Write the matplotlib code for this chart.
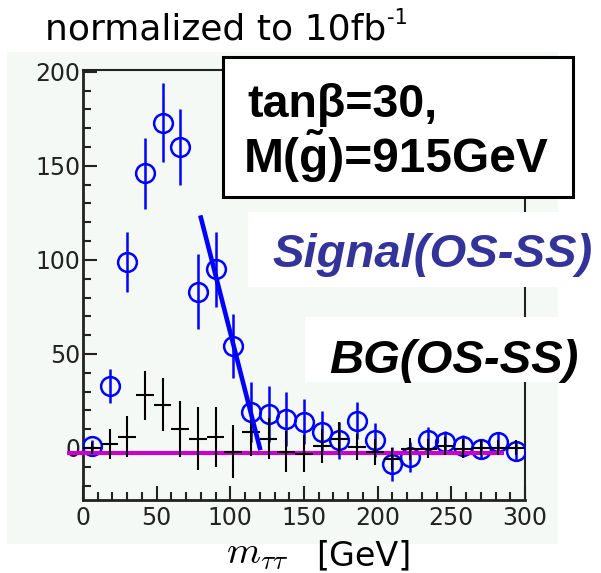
import matplotlib
matplotlib.use("Agg")
import matplotlib.pyplot as plt
from matplotlib.patches import Rectangle
import numpy as np

# ---------------- data ----------------
bin_centers = [6, 18, 30, 42, 54, 66, 78, 90, 102, 114, 126, 138, 150,
               162, 174, 186, 198, 210, 222, 234, 246, 258, 270, 282, 294]
bin_half_width = 6
signal_vals = [1, 33, 99, 146, 173, 160, 83, 95, 54, 19, 18, 15.5, 14,
               8.6, 4, 14.5, 4, -8.6, -5, 4, 3, 1, -0.5, 3, -1.5]
signal_errs = [3, 9, 16, 19, 21, 20, 20, 20, 17, 16, 15, 14.5, 12,
               11, 10, 10, 9, 9, 8, 7, 6, 6, 5, 5, 5]
bg_vals = [0, 2, 6, 28, 23, 10, 5, 6, -2, 8.5, 5, -2, -3,
           1, 5, 0.5, -2, -6, -0.5, -0.5, 1, -0.5, 0, 0, 0]
bg_errs = [3, 8, 11, 13, 14, 15, 17, 16, 14, 13, 11, 11, 10,
           9, 9, 7, 7, 6, 6, 5, 5, 5, 4, 4, 4]
fit_x = [80, 120]
fit_y = [122.5, 0]
flat_x = [-11, 286]
flat_y = [-2.5, -2.5]

x_ticks = [0, 50, 100, 150, 200, 250, 300]
y_ticks = [0, 50, 100, 150, 200]

# ---------------- figure ----------------
W, H = 601, 573
fig = plt.figure(figsize=(W / 100, H / 100), dpi=100)
fig.patch.set_facecolor("white")

def fx(px):
    return px / W

def fy(py):
    return 1 - py / H

panel = "#f4f9f6"
fig.patches.append(Rectangle((fx(7), fy(544)), (558 - 7) / W, (544 - 52) / H,
                             transform=fig.transFigure, facecolor=panel,
                             edgecolor="none", zorder=-1))

ax = fig.add_axes([fx(83), fy(500), 442 / W, 430 / H])
ax.set_facecolor(panel)
ax.set_xlim(0, 300)
ax.set_ylim(-27.7, 201)

dark = "#222222"
for side in ["left", "bottom"]:
    ax.spines[side].set_linewidth(2.0)
    ax.spines[side].set_color(dark)
for side in ["top", "right"]:
    ax.spines[side].set_linewidth(1.5)
    ax.spines[side].set_color(dark)

ax.set_xticks(x_ticks)
ax.set_yticks(y_ticks)
ax.set_xticks(np.arange(0, 301, 10), minor=True)
ax.set_yticks(np.arange(-20, 201, 10), minor=True)
ax.tick_params(which="both", direction="in", top=False, right=False,
               color=dark, width=1.5)
ax.tick_params(which="major", length=10, labelsize=17, labelcolor=dark)
ax.tick_params(which="minor", length=5.5)
ax.tick_params(axis="y", pad=2)
ax.tick_params(axis="x", pad=4)
for lab in ax.get_xticklabels() + ax.get_yticklabels():
    lab.set_family("DejaVu Sans")

# signal points
ax.errorbar(bin_centers, signal_vals, yerr=signal_errs, fmt="o",
            color="#0000ff", ecolor="#0000ff", elinewidth=1.8,
            markersize=13.5, markerfacecolor="none", markeredgewidth=1.8,
            capsize=0, zorder=3)

# flat line
ax.plot(flat_x, flat_y, color="#c800c8", lw=3, zorder=4, clip_on=False,
        solid_capstyle="butt")

# background crosses
ax.errorbar(bin_centers, bg_vals, yerr=bg_errs, xerr=bin_half_width,
            fmt="none", ecolor="black", elinewidth=1.5, capsize=0, zorder=5)

# fit line
ax.plot(fit_x, fit_y, color="#0000ff", lw=3.3, zorder=6)

# ---------------- annotation boxes ----------------
fig.patches.append(Rectangle((fx(223), fy(197)), (573 - 223) / W, (197 - 57) / H,
                             transform=fig.transFigure, facecolor="white",
                             edgecolor="black", linewidth=2.2, zorder=5))
fig.patches.append(Rectangle((fx(248), fy(287)), (W - 248) / W, (287 - 212) / H,
                             transform=fig.transFigure, facecolor="white",
                             edgecolor="none", zorder=5))
fig.patches.append(Rectangle((fx(305), fy(382)), (W - 305) / W, (382 - 317) / H,
                             transform=fig.transFigure, facecolor="white",
                             edgecolor="none", zorder=5))

bold_font = dict(family="Liberation Sans", weight="bold", zorder=6)
fig.text(fx(247), fy(117), "tan\u03b2=30,", fontsize=33.5, va="baseline",
         ha="left", **bold_font)
fig.text(fx(244), fy(172), "M(g\u0303)=915GeV", fontsize=34.5, va="baseline",
         ha="left", **bold_font)

fig.text(fx(272), fy(267), "Signal(OS-SS)", fontsize=34, va="baseline",
         ha="left", style="italic", color="#333399", **bold_font)
fig.text(fx(329), fy(373), "BG(OS-SS)", fontsize=34, va="baseline",
         ha="left", style="italic", color="black", **bold_font)

# title
t_main = fig.text(fx(45), fy(39), "normalized to 10fb", fontsize=26,
                  family="DejaVu Sans", va="baseline", ha="left", color="black")
fig.canvas.draw()
bb = t_main.get_window_extent()
fig.text((bb.x1 + 1) / W, fy(24), "-1", fontsize=15,
         family="DejaVu Sans", va="baseline", ha="left", color="black")

# x label
fig.text(fx(226), fy(563), r"$m_{\tau\tau}$", fontsize=28,
         math_fontfamily="cm", va="baseline", ha="left", color="black")
fig.text(fx(316), fy(565), "[GeV]", fontsize=24,
         family="DejaVu Sans", va="baseline", ha="left", color="black")

fig.savefig("out.png", dpi=100)
